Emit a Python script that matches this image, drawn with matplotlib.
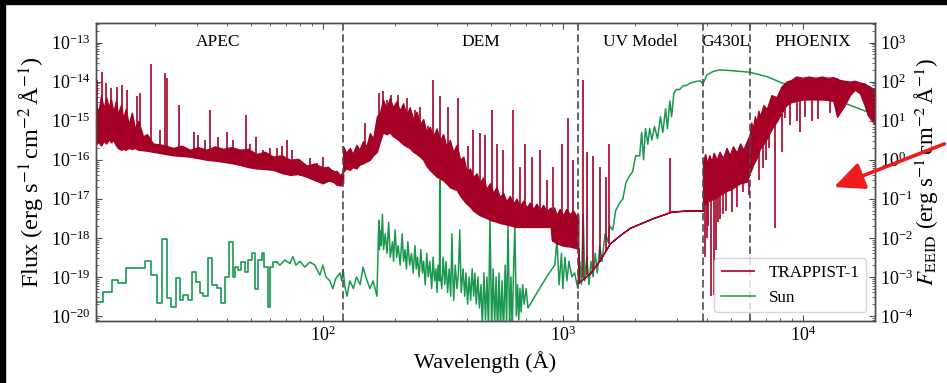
import numpy as np
import matplotlib
matplotlib.use('Agg')
import matplotlib.pyplot as plt
from matplotlib.patches import Rectangle, FancyArrowPatch
from matplotlib.ticker import LogLocator, FixedLocator

plt.rcParams['font.family'] = 'serif'
plt.rcParams['font.serif'] = ['Liberation Serif', 'DejaVu Serif']
plt.rcParams['mathtext.fontset'] = 'stix'

RED = '#a50026'
GREEN = '#1a9850'

# ---- TRAPPIST-1 (wavelength in A, flux in erg/s/cm2/A) ----
# X-ray (APEC) band: lower / upper edge of the dense line forest
apec_wave = [11.3, 11.6, 11.9, 12.2, 12.5, 12.8, 13.1, 13.4, 13.7, 14.0,
             14.4, 14.7, 15.1, 15.5, 16.0, 16.5, 17.0, 17.8, 18.5, 19.6,
             21.5, 23.8, 25.8, 27.9, 30.2, 32.8, 35.5, 38.4, 41.6, 45.1,
             48.8, 52.9, 57.3, 62.1, 67.3, 72.9, 79, 85.5, 92.5, 100,
             105, 110, 114, 118, 121.5]
apec_lo = [2.4e-16, 2.9e-16, 2.3e-16, 3.0e-16, 2.6e-16, 3.3e-16, 2.8e-16, 3.2e-16, 2.4e-16, 2.0e-16,
           1.8e-16, 1.9e-16, 1.8e-16, 2.0e-16, 1.9e-16, 2.0e-16, 1.8e-16, 1.75e-16, 1.7e-16, 1.6e-16,
           1.45e-16, 1.3e-16, 1.25e-16, 1.2e-16, 1.1e-16, 1.0e-16, 9.5e-17, 8.9e-17, 8.2e-17, 7.4e-17,
           6.5e-17, 6.0e-17, 5.8e-17, 5.5e-17, 4.6e-17, 4.1e-17, 4.3e-17, 3.7e-17, 3.0e-17, 2.5e-17,
           2.9e-17, 2.8e-17, 2.3e-17, 2.2e-17, 2.5e-17]
apec_hi = [2.8e-15, 1.6e-15, 4.5e-15, 2.0e-15, 4.0e-15, 2.2e-15, 3.5e-15, 1.6e-15, 3.2e-15, 1.5e-15,
           2.5e-15, 1.2e-15, 2.0e-15, 8.0e-16, 1.6e-15, 6.0e-16, 1.0e-15, 4.0e-16, 4.5e-16, 2.6e-16,
           2.4e-16, 2.0e-16, 2.3e-16, 1.8e-16, 2.1e-16, 1.8e-16, 2.2e-16, 1.9e-16, 2.1e-16, 1.8e-16,
           1.9e-16, 1.4e-16, 1.6e-16, 1.2e-16, 1.3e-16, 1.0e-16, 1.05e-16, 7.1e-17, 8.0e-17, 6.3e-17,
           6.6e-17, 5.0e-17, 5.2e-17, 4.0e-17, 5.0e-17]

# EUV (DEM) band
dem_wave = [121.5, 125, 129.6, 133, 138, 142, 147, 152, 157, 162,
            168, 173, 178, 184, 190, 196, 203, 209, 216, 223,
            230, 238, 246, 254, 262, 270, 279, 288, 298, 307,
            317, 327, 338, 349, 361, 373, 385, 397, 410, 423,
            437, 451, 465, 481, 497, 513, 529, 546, 564, 582,
            601, 620, 641, 662, 684, 706, 729, 753, 777, 802,
            828, 855, 890, 900, 920, 941, 970, 1003, 1035, 1069,
            1105, 1140, 1160]
dem_lo = [5.0e-17, 6.0e-17, 5.5e-17, 6.5e-17, 6.0e-17, 7.5e-17, 8.1e-17, 9.0e-17, 1.0e-16, 1.3e-16,
          1.6e-16, 3.0e-16, 5.0e-16, 4.5e-16, 5.0e-16, 4.0e-16, 3.5e-16, 3.0e-16, 2.5e-16, 2.2e-16,
          2.0e-16, 1.6e-16, 1.4e-16, 1.2e-16, 1.0e-16, 7.0e-17, 5.5e-17, 4.5e-17, 3.7e-17, 3.3e-17,
          3.0e-17, 2.5e-17, 2.0e-17, 1.8e-17, 1.7e-17, 1.2e-17, 9.3e-18, 7.5e-18, 6.3e-18, 5.0e-18,
          4.3e-18, 3.8e-18, 3.5e-18, 3.2e-18, 2.9e-18, 2.7e-18, 2.6e-18, 2.4e-18, 2.3e-18, 2.2e-18,
          2.1e-18, 2.0e-18, 1.9e-18, 1.9e-18, 1.9e-18, 1.9e-18, 1.9e-18, 1.9e-18, 1.9e-18, 1.9e-18,
          1.9e-18, 1.9e-18, 1.9e-18, 8.9e-19, 8.0e-19, 7.2e-19, 6.8e-19, 6.3e-19, 6.1e-19, 6.0e-19,
          5.7e-19, 5.4e-19, 5.4e-19]
dem_hi = [2.2e-16, 1.5e-16, 2.0e-16, 1.4e-16, 2.4e-16, 1.8e-16, 3.0e-16, 2.2e-16, 4.8e-16, 3.5e-16,
          1.3e-15, 1.6e-15, 3.5e-15, 2.0e-15, 3.8e-15, 2.2e-15, 3.2e-15, 1.8e-15, 2.8e-15, 1.4e-15,
          2.2e-15, 1.1e-15, 1.7e-15, 8.0e-16, 1.1e-15, 5.0e-16, 7.0e-16, 4.0e-16, 6.3e-16, 3.0e-16,
          4.5e-16, 2.2e-16, 3.2e-16, 1.6e-16, 2.4e-16, 1.0e-16, 1.2e-16, 5.0e-17, 6.0e-17, 3.5e-17,
          4.5e-17, 2.6e-17, 3.5e-17, 1.8e-17, 2.5e-17, 1.4e-17, 2.0e-17, 1.1e-17, 1.4e-17, 8.5e-18,
          1.2e-17, 7.5e-18, 1.0e-17, 6.5e-18, 9.0e-18, 6.0e-18, 8.0e-18, 5.5e-18, 7.5e-18, 5.0e-18,
          7.0e-18, 4.8e-18, 6.0e-18, 4.5e-18, 6.0e-18, 3.8e-18, 5.5e-18, 3.8e-18, 5.5e-18, 4.0e-18,
          5.0e-18, 3.5e-18, 4.0e-18]

# UV model continuum
uv_wave = [1160, 1223, 1296, 1426, 1570, 1728, 1900, 2377, 2839, 3277, 3840]
uv_flux = [7.1e-20, 9.3e-20, 1.23e-19, 2.7e-19, 7.2e-19, 1.17e-18, 1.8e-18, 3.2e-18, 4.7e-18, 5.0e-18, 5.0e-18]

# G430L + PHOENIX
phx_wave = [3840, 3920, 3980, 4080, 4170, 4250, 4380, 4500, 4650, 4810,
            4960, 5120, 5300, 5480, 5650, 5850, 6010, 6100, 6200, 6310,
            6420, 6530, 6640, 6850, 7080, 7400, 7780, 8150, 8550, 8950,
            9380, 10000, 10600, 11300, 12000, 12700, 13400, 13900, 14250, 14950,
            15700, 16500, 17300, 18100, 18650, 20000]
phx_lo = [8.5e-18, 7.0e-18, 8.5e-18, 9.0e-18, 9.5e-18, 1.0e-17, 1.1e-17, 1.26e-17, 1.4e-17, 1.6e-17,
          1.7e-17, 1.9e-17, 2.2e-17, 2.5e-17, 2.6e-17, 2.75e-17, 4.5e-17, 5.5e-17, 7.4e-17, 9.0e-17,
          1.1e-16, 1.5e-16, 1.95e-16, 2.5e-16, 3.5e-16, 6.0e-16, 9.5e-16, 1.6e-15, 2.5e-15, 3.0e-15,
          3.2e-15, 3.5e-15, 3.5e-15, 3.5e-15, 3.5e-15, 3.4e-15, 3.2e-15, 1.26e-15, 1.6e-15, 2.5e-15,
          4.5e-15, 6.2e-15, 5.0e-15, 2.5e-15, 1.4e-15, 7.9e-16]
phx_hi = [8.9e-17, 1.4e-16, 8.0e-17, 1.3e-16, 9.0e-17, 1.5e-16, 1.0e-16, 1.6e-16, 1.1e-16, 2.0e-16,
          1.3e-16, 2.2e-16, 1.5e-16, 2.6e-16, 1.8e-16, 3.0e-16, 4.4e-16, 9.0e-16, 6.0e-16, 1.3e-15,
          9.0e-16, 1.8e-15, 1.3e-15, 2.5e-15, 2.0e-15, 4.5e-15, 4.0e-15, 7.5e-15, 1.0e-14, 1.1e-14,
          1.35e-14, 1.25e-14, 1.35e-14, 1.25e-14, 1.35e-14, 1.25e-14, 1.3e-14, 1.2e-14, 1.1e-14, 1.05e-14,
          1.0e-14, 1.05e-14, 9.5e-15, 8.9e-15, 7.9e-15, 6.3e-15]

# emission lines: wavelength, base, peak
line_wave = [11.4, 11.96, 12.47, 13.04, 13.82, 14.5, 15.2, 16.74, 17.28, 19.2, 20.9, 21.97, 22.5, 25.1, 29.0, 30.2,
             32.2, 34.0, 36.6, 39.7, 42.3, 47.6, 49.6, 52.4, 56.4, 60.1, 64.5, 67.3, 70.6, 74.3, 80.2, 88.3, 94.1,
             100.3, 110.4,
             149.6, 171.7, 177.4, 184.3, 191.5, 206, 223.3, 241.7, 253.5, 274.7, 288.2, 307, 332.7, 366.3, 403, 423,
             451, 473, 505, 530, 564, 621, 662, 695, 741, 802, 855, 912, 988, 1052, 1104,
             1216, 1262, 1337, 1426, 1506, 1560, 2800]
line_base = [2.5e-16, 2.8e-16, 3.2e-16, 3.2e-16, 2.5e-16, 2.0e-16, 1.9e-16, 1.9e-16, 1.8e-16, 1.66e-16, 1.6e-16,
             1.5e-16, 1.4e-16, 1.26e-16, 1.12e-16, 1.07e-16, 1.0e-16, 1.0e-16, 9.3e-17, 8.7e-17, 7.9e-17, 7.1e-17,
             6.8e-17, 6.3e-17, 5.9e-17, 5.6e-17, 5.0e-17, 4.7e-17, 4.3e-17, 4.0e-17, 3.8e-17, 3.5e-17, 2.8e-17,
             2.5e-17, 2.5e-17,
             8.9e-17, 2.5e-16, 5.0e-16, 5.0e-16, 5.0e-16, 3.5e-16, 2.2e-16, 1.6e-16, 1.26e-16, 6.3e-17, 5.0e-17,
             3.5e-17, 2.2e-17, 1.6e-17, 7.9e-18, 5.6e-18, 4.0e-18, 3.5e-18, 2.8e-18, 2.6e-18, 2.3e-18, 2.0e-18,
             2.0e-18, 1.9e-18, 1.9e-18, 1.9e-18, 1.9e-18, 7.9e-19, 6.3e-19, 6.0e-19, 5.6e-19,
             9.3e-20, 1.12e-19, 1.6e-19, 2.7e-19, 4.5e-19, 6.8e-19, 4.7e-18]
line_peak = [1.1e-14, 1.8e-14, 9.1e-15, 6.8e-15, 7.4e-15, 8.3e-15, 6.2e-15, 4.2e-15, 5.0e-15, 2.8e-14, 5.8e-16,
             1.7e-14, 1.23e-14, 2.5e-15, 5.2e-16, 4.4e-16, 3.2e-16, 1.9e-15, 3.9e-16, 5.2e-16, 3.2e-16, 1.4e-15,
             2.6e-16, 3.9e-16, 1.8e-16, 2.0e-16, 2.0e-16, 2.2e-16, 3.2e-16, 1.8e-16, 1.0e-16, 1.1e-16, 8.1e-17,
             1.2e-16, 5.5e-17,
             8.7e-16, 5.0e-15, 5.6e-15, 3.4e-15, 4.6e-15, 4.6e-15, 3.8e-15, 1.9e-15, 2.3e-15, 7.1e-16, 1.1e-14,
             4.2e-15, 2.3e-15, 3.8e-15, 2.2e-16, 5.8e-16, 4.8e-16, 4.4e-16, 1.9e-15, 2.6e-16, 1.8e-16, 1.9e-15,
             6.6e-17, 2.6e-16, 1.2e-16, 1.8e-16, 3.0e-17, 6.6e-17, 2.6e-16, 1.15e-15, 1.0e-16,
             1.07e-14, 1.6e-16, 1.26e-16, 6.6e-17, 3.7e-17, 2.6e-16, 1.1e-16]

# absorption lines in the optical / IR: wavelength, top, bottom
dip_wave = [3906, 3981, 4030, 4150, 4270, 4350, 4430, 4520, 4640, 4800, 5050, 5300, 5620, 5960,
            6560, 6810, 7050, 7250, 7690, 8180, 8420, 8830, 9440, 9720, 10190, 10900, 11550, 12960]
dip_top = [8.5e-18, 8.5e-18, 9.0e-18, 9.0e-18, 1.0e-17, 1.1e-17, 1.2e-17, 1.3e-17, 1.4e-17, 1.6e-17, 1.9e-17,
           2.2e-17, 2.6e-17, 3.0e-17, 1.6e-16, 2.5e-16, 3.5e-16, 4.5e-16, 8.5e-16, 1.5e-15, 2.0e-15, 3.0e-15,
           3.2e-15, 3.3e-15, 3.5e-15, 3.5e-15, 3.5e-15, 3.3e-15]
dip_bottom = [3.3e-19, 1.0e-18, 2.0e-18, 3.2e-20, 3.5e-20, 5.0e-19, 2.5e-18, 3.0e-18, 4.0e-18, 5.0e-18, 4.7e-18,
              6.0e-18, 1.5e-17, 1.26e-17, 3.0e-17, 6.3e-17, 1.0e-16, 2.0e-16, 1.78e-18, 1.6e-16, 1.2e-15,
              7.9e-16, 1.0e-15, 5.0e-16, 1.26e-15, 1.0e-15, 1.1e-15, 1.6e-15]

# ---- Sun ----
# coarse X-ray bins (left edges)
sun_xray_wave = [11.3, 12.15, 13.17, 14.03, 15.1, 18.1, 19.3, 20.3, 21.3, 22.4, 23.3, 24.4, 25.4, 26.2, 27.3, 28.4,
                 29.6, 30.7, 31.7, 33.3, 34.4, 36.1, 37.6, 39.1, 40.7, 42.1, 43.0, 44.4, 45.8, 47.3, 48.9, 50.9,
                 52.1, 53.7, 55.5, 56.7, 59.1, 60.1, 61.7, 64.1]
sun_xray_flux = [2.3e-20, 4.2e-20, 8.3e-20, 7.1e-20, 1.66e-19, 2.6e-19, 1.12e-19, 2.2e-20, 9.1e-19, 2.8e-20, 1.74e-20,
                 9.1e-20, 2.6e-20, 3.5e-20, 2.6e-20, 1.35e-19, 7.6e-20, 3.8e-20, 3.2e-20, 3.0e-19, 6.2e-20, 5.1e-20,
                 2.1e-20, 1.02e-19, 7.9e-19, 1.02e-19, 1.8e-19, 1.5e-19, 2.45e-19, 1.35e-19, 2.7e-19, 4.1e-19,
                 5.0e-20, 2.7e-19, 4.2e-19, 1.8e-19, 1.74e-20, 1.8e-19, 2.45e-19, 2.45e-19]

# finer solar spectrum from 64 A onwards
sun_wave = [64.1, 66.2, 69.4, 72.9, 75, 77.2, 80.2, 84.1, 88.3, 92.6,
            95.3, 97.2, 100, 103, 107, 110, 113, 118, 120, 121.5,
            123.5, 126, 129.6, 134, 138, 143, 147, 151, 157, 162,
            168, 171, 172, 173, 175, 177, 179, 182, 185, 188,
            191, 195, 197, 200, 203, 206, 210, 214, 217, 220,
            223, 226, 230, 234, 238, 242, 245, 248, 252, 256,
            260, 263, 267, 271, 275, 279, 284, 288, 292, 296,
            299, 302, 306, 307, 308, 313, 317, 322, 326, 331,
            336, 341, 345, 348, 351, 356, 362, 367, 372, 377,
            384, 390, 395, 401, 407, 413, 419, 425, 430, 436,
            443, 449, 456, 462, 469, 476, 483, 490, 497, 505,
            512, 520, 527, 535, 542, 550, 558, 566, 575, 583,
            591, 600, 608, 615, 623, 631, 640, 648, 655, 663,
            670, 680, 690, 703, 716, 765, 818, 866, 926, 945,
            965, 987, 1000, 1020, 1040, 1060, 1090, 1120, 1155, 1159,
            1177, 1195, 1216, 1235, 1260, 1285, 1310, 1337, 1365, 1392,
            1426, 1455, 1500, 1540, 1570, 1615, 1660, 1728, 1780, 1830,
            1900, 1955, 2010, 2090, 2130, 2170, 2210, 2260, 2300, 2350,
            2410, 2480, 2550, 2610, 2680, 2730, 2790, 2840, 2900, 2970,
            3070, 3170, 3260, 3390, 3560, 3730, 3840, 3980, 4230, 4500,
            5120, 6010, 7080, 8250, 9700, 11300, 13300, 15700, 18500, 20000]
sun_flux = [2.45e-19, 2.0e-19, 2.7e-19, 2.2e-19, 3.3e-19, 2.0e-19, 2.5e-19, 1.78e-19, 2.4e-19, 2.0e-19,
            1.4e-19, 1.12e-19, 2.0e-19, 1.0e-19, 7.9e-20, 5.0e-20, 8.9e-20, 1.26e-19, 7.9e-20, 1.5e-19,
            5.6e-20, 3.2e-20, 7.9e-20, 5.0e-20, 1.0e-19, 6.3e-20, 1.78e-19, 1.0e-19, 5.0e-20, 7.9e-20,
            3.2e-20, 2.8e-18, 5.0e-19, 1.6e-18, 6.3e-19, 4.0e-18, 5.0e-19, 1.26e-18, 4.0e-19, 2.5e-18,
            3.2e-19, 7.9e-19, 2.5e-19, 1.6e-18, 3.2e-19, 6.3e-19, 2.0e-19, 1.26e-18, 2.5e-19, 5.0e-19,
            1.6e-19, 7.9e-19, 2.0e-19, 4.0e-19, 1.26e-19, 6.3e-19, 1.6e-19, 3.2e-19, 1.0e-19, 5.0e-19,
            1.26e-19, 2.5e-19, 6.3e-20, 4.0e-19, 1.0e-19, 2.5e-19, 5.0e-20, 3.2e-19, 7.9e-20, 1.6e-19,
            4.0e-20, 2.0e-19, 7.9e-20, 3.0e-17, 1.26e-19, 5.0e-20, 3.2e-19, 6.3e-20, 2.5e-19, 4.0e-20,
            1.6e-19, 3.2e-20, 1.26e-18, 1.0e-19, 2.5e-20, 2.0e-19, 5.0e-20, 1.26e-19, 1.6e-18, 4.0e-20,
            1.6e-19, 3.2e-20, 1.26e-19, 2.0e-20, 1.0e-19, 2.5e-20, 1.6e-19, 3.2e-20, 1.26e-19, 2.0e-20,
            1.0e-19, 1.6e-20, 6.3e-20, 5.0e-21, 1.26e-19, 7.9e-21, 1.0e-19, 4.0e-21, 3.5e-18, 4.0e-21,
            1.6e-19, 6.3e-21, 1.0e-19, 3.2e-21, 1.26e-19, 5.0e-21, 7.9e-20, 3.2e-21, 2.0e-19, 6.3e-21,
            2.3e-18, 5.0e-21, 1.0e-19, 4.0e-21, 1.26e-19, 2.0e-18, 1.0e-20, 6.3e-20, 7.9e-21, 5.0e-20,
            1.26e-20, 6.3e-20, 2.0e-20, 5.0e-20, 1.6e-20, 3.2e-20, 6.3e-20, 1.12e-19, 2.0e-19, 8.9e-19,
            6.3e-20, 4.0e-19, 5.0e-20, 3.2e-19, 7.9e-20, 2.5e-19, 1.0e-19, 1.26e-19, 5.0e-20, 7.9e-20,
            2.5e-19, 6.3e-20, 4.0e-18, 7.9e-20, 3.2e-19, 6.3e-20, 2.5e-19, 1.0e-19, 4.0e-19, 1.26e-19,
            6.3e-19, 2.5e-19, 1.26e-18, 7.9e-19, 2.0e-18, 1.6e-18, 5.0e-18, 7.9e-18, 1.0e-17, 2.5e-17,
            4.0e-17, 5.0e-17, 1.26e-16, 1.26e-16, 5.0e-16, 1.0e-16, 6.3e-16, 2.5e-16, 6.3e-16, 3.2e-16,
            7.1e-16, 3.5e-16, 1.26e-15, 5.0e-16, 2.0e-15, 6.3e-16, 3.2e-15, 1.26e-15, 5.0e-15, 6.3e-15,
            6.3e-15, 7.9e-15, 7.9e-15, 9.1e-15, 1.0e-14, 1.05e-14, 8.9e-15, 1.48e-14, 1.82e-14, 2.0e-14,
            1.9e-14, 1.74e-14, 1.35e-14, 9.1e-15, 6.8e-15, 5.0e-15, 3.7e-15, 2.5e-15, 1.7e-15, 1.4e-15]

# model boundaries and labels
region_edges = [121.5, 1160, 3840, 6010]
region_names = ['APEC', 'DEM', 'UV Model', 'G430L', 'PHOENIX']
region_label_wave = [36.5, 454, 2110, 4800, 10960]

# ---- figure ----
fig = plt.figure(figsize=(9.47, 3.83), dpi=100)
ax = fig.add_axes([0.101, 0.162, 0.823, 0.779])

t1_wave = np.array(apec_wave + dem_wave + uv_wave + phx_wave)
t1_lo = np.array(apec_lo + dem_lo + uv_flux + phx_lo)
t1_hi = np.array(apec_hi + dem_hi + uv_flux + phx_hi)

ax.fill_between(t1_wave, t1_lo, t1_hi, facecolor=RED, edgecolor=RED, linewidth=1.0, zorder=3)
h_t1 = ax.vlines(line_wave, line_base, line_peak, color=RED, lw=1.2, zorder=3, label='TRAPPIST-1')
ax.vlines(dip_wave, dip_bottom, dip_top, color=RED, lw=1.2, zorder=3)

ax.step(sun_xray_wave, sun_xray_flux, where='post', color=GREEN, lw=1.2, zorder=2)
h_sun, = ax.plot(sun_wave, sun_flux, color=GREEN, lw=1.1, zorder=2, label='Sun')

for w in region_edges:
    ax.axvline(w, color='0.3', ls='--', lw=1.2, dashes=(4.5, 2.2), zorder=4)
for name, w in zip(region_names, region_label_wave):
    ax.text(w, 0.935, name, transform=ax.get_xaxis_transform(), ha='center', va='center', fontsize=12.5)

unit = 'erg s$^{-1}\\,$cm$^{-2}\\,$Å$^{-1}$'

ax.set_xscale('log')
ax.set_yscale('log')
ax.set_xlim(11.3, 2.0e4)
ax.set_ylim(7.44e-21, 3.25e-13)
ax.set_xlabel('Wavelength (Å)', fontsize=16)
ax.set_ylabel('Flux (' + unit + ')', fontsize=17.5, labelpad=3)
ax.yaxis.set_major_locator(FixedLocator([1e-20, 1e-19, 1e-18, 1e-17, 1e-16, 1e-15, 1e-14, 1e-13]))
ax.yaxis.set_minor_locator(LogLocator(base=10, subs=np.arange(2, 10), numticks=200))
ax.tick_params(which='both', direction='in', top=True, right=False, labelsize=13, color='0.3')
ax.tick_params(which='major', length=4.5, width=0.8)
ax.tick_params(which='minor', length=2.5, width=0.6)

ax2 = ax.twinx()
ax2.set_yscale('log')
ax2.set_ylim(7.44e-5, 3.25e3)
ax2.yaxis.set_major_locator(FixedLocator([1e-4, 1e-3, 1e-2, 1e-1, 1e0, 1e1, 1e2, 1e3]))
ax2.yaxis.set_minor_locator(LogLocator(base=10, subs=np.arange(2, 10), numticks=200))
ax2.tick_params(which='both', direction='in', labelsize=13, color='0.3')
ax2.tick_params(which='major', length=4.5, width=0.8)
ax2.tick_params(which='minor', length=2.5, width=0.6)
ax2.set_ylabel('$F_{\\rm EEID}$ (' + unit + ')', fontsize=16.5, labelpad=0)

for a in (ax, ax2):
    for s in a.spines.values():
        s.set_color('0.3')
        s.set_linewidth(1.0)

leg = ax.legend(handles=[h_t1, h_sun], loc='lower right', fontsize=12.3, fancybox=True,
                edgecolor='0.8', framealpha=0.8)
leg.set_zorder(10)

# red pointer arrow coming in from the right edge
fig.add_artist(FancyArrowPatch((1.0, 0.627), (0.878, 0.509), transform=fig.transFigure,
                               arrowstyle='-|>,head_length=0.65,head_width=0.3', mutation_scale=28,
                               lw=2.6, color='#ee1c1c'))

# black scan border on top and left
fig.add_artist(Rectangle((0, 1 - 4 / 383), 1, 4 / 383, transform=fig.transFigure, color='black'))
fig.add_artist(Rectangle((0, 0), 5 / 947, 1, transform=fig.transFigure, color='black'))

fig.savefig('out.png', dpi=100)
